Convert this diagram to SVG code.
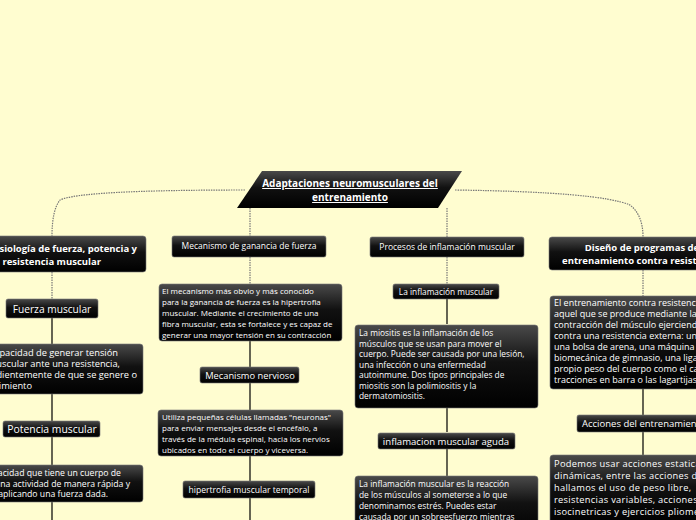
<svg xmlns="http://www.w3.org/2000/svg" width="696" height="520" viewBox="0 0 696 520">
<defs>
<linearGradient id="g" x1="0" y1="0" x2="0" y2="1"><stop offset="0" stop-color="#4a4a4a"/><stop offset="0.45" stop-color="#111"/><stop offset="1" stop-color="#000"/></linearGradient>
<style>
.b{fill:url(#g);stroke:#777;stroke-width:0.6}
.t{fill:#fff;font-family:"Open Sans","DejaVu Sans",sans-serif;font-size:8px}
.s{font-size:8px}
.m{font-size:8.4px}
.r{font-size:9px}
.k{font-size:9.3px}
.j{font-size:8.7px}
.h{font-weight:bold;font-size:9.5px}
.c{text-anchor:middle}
.e{text-anchor:end}
.d{fill:none;stroke:#777;stroke-width:1.2;stroke-dasharray:1.5 1}
.l{fill:none;stroke:#000;stroke-width:1.2}
</style>
</defs>
<rect width="696" height="520" fill="#fffdd0"/>
<g id="connectors">
<path class="d" d="M245 190 Q80 190 60 200 Q52 210 52 236"/>
<path class="d" d="M52 272 V299"/>
<path class="l" d="M52 318 V344 M52 394 V421 M52 437 V465 M52 502 V520"/>
<path class="d" d="M250 208 V236 M250 257 V284"/>
<path class="l" d="M250 341 V367 M250 383 V410 M250 456 V481 M250 498 V520"/>
<path class="d" d="M447 208 V237 M447 257 V284"/>
<path class="l" d="M447 299 V324 M447 408 V432 M447 449 V476"/>
<path class="d" d="M455 190 Q600 192 630 205 Q643 215 643 237 M643 270 V296"/>
<path class="l" d="M643 389 V415 M643 432 V455"/>
</g>
<g id="root">
<polygon points="262,171 462,171 438,208 237,208" fill="url(#g)"/>
<text class="t c" x="350" y="187" style="font-weight:bold;font-size:10px" text-decoration="underline">Adaptaciones neuromusculares del</text>
<text class="t c" x="350" y="201" style="font-weight:bold;font-size:10px" text-decoration="underline">entrenamiento</text>
</g>
<g id="n1"><rect class="b" x="-8" y="236" width="154" height="36" rx="3"/>
<text class="t h e" x="137" y="252">Fisiología de fuerza, potencia y</text>
<text class="t h e" x="101" y="265">resistencia muscular</text></g>
<g id="n1a"><rect class="b" x="6" y="299" width="92" height="19" rx="2"/><text class="t c" x="52" y="312.5" style="font-size:10.2px">Fuerza muscular</text></g>
<g id="n1b"><rect class="b" x="-8" y="344" width="151" height="50" rx="3"/>
<text class="t k e" x="118" y="356">Capacidad de generar tensión</text>
<text class="t k e" x="120" y="367">muscular ante una resistencia,</text>
<text class="t k e" x="137" y="378">independientemente de que se genere o</text>
<text class="t k e" x="32" y="389">movimiento</text></g>
<g id="n1c"><rect class="b" x="3" y="421" width="97" height="16" rx="2"/><text class="t c" x="52" y="432.5" style="font-size:10.4px">Potencia muscular</text></g>
<g id="n1d"><rect class="b" x="-8" y="465" width="151" height="37" rx="3"/>
<text class="t j e" x="121" y="476">Capacidad que tiene un cuerpo de</text>
<text class="t j e" x="130" y="486.5">realizar una actividad de manera rápida y</text>
<text class="t j e" x="108" y="497">eficaz, aplicando una fuerza dada.</text></g>
<g id="n2"><rect class="b" x="172" y="236" width="154" height="21" rx="2"/><text class="t c" x="249" y="249" style="font-size:8.5px">Mecanismo de ganancia de fuerza</text></g>
<g id="n2a"><rect class="b" x="159" y="284" width="183" height="57" rx="3"/>
<text class="t s" x="162" y="294">El mecanismo más obvio y más conocido</text>
<text class="t s" x="162" y="305">para la ganancia de fuerza es la hipertrofia</text>
<text class="t s" x="162" y="316">muscular. Mediante el crecimiento de una</text>
<text class="t s" x="162" y="327">fibra muscular, esta se fortalece y es capaz de</text>
<text class="t s" x="162" y="338">generar una mayor tensión en su contracción</text></g>
<g id="n2b"><rect class="b" x="200" y="367" width="99" height="16" rx="2"/><text class="t c" x="250" y="378.5" style="font-size:9.3px">Mecanismo nervioso</text></g>
<g id="n2c"><rect class="b" x="158" y="410" width="185" height="46" rx="3"/>
<text class="t s" x="162" y="420">Utiliza pequeñas células llamadas "neuronas"</text>
<text class="t s" x="162" y="431">para enviar mensajes desde el encéfalo, a</text>
<text class="t s" x="162" y="442">través de la médula espinal, hacia los nervios</text>
<text class="t s" x="162" y="453">ubicados en todo el cuerpo y viceversa.</text></g>
<g id="n2d"><rect class="b" x="183" y="481" width="132" height="17" rx="2"/><text class="t c" x="249" y="493" style="font-size:8.6px">hipertrofia muscular temporal</text></g>
<g id="n3"><rect class="b" x="370" y="237" width="154" height="20" rx="2"/><text class="t c" x="447" y="250" style="font-size:8.5px">Procesos de inflamación muscular</text></g>
<g id="n3a"><rect class="b" x="393" y="284" width="106" height="15" rx="2"/><text class="t c" x="446" y="295" style="font-size:8.3px">La inflamación muscular</text></g>
<g id="n3b"><rect class="b" x="355" y="325" width="183" height="83" rx="3"/>
<text class="t m" x="359" y="336">La miositis es la inflamación de los</text>
<text class="t m" x="359" y="346.5">músculos que se usan para mover el</text>
<text class="t m" x="359" y="357">cuerpo. Puede ser causada por una lesión,</text>
<text class="t m" x="359" y="367.5">una infección o una enfermedad</text>
<text class="t m" x="359" y="378">autoinmune. Dos tipos principales de</text>
<text class="t m" x="359" y="388.5">miositis son la polimiositis y la</text>
<text class="t m" x="359" y="399">dermatomiositis.</text></g>
<g id="n3c"><rect class="b" x="378" y="433" width="137" height="16" rx="2"/><text class="t c" x="446" y="444.5" style="font-size:9.6px">inflamacion muscular aguda</text></g>
<g id="n3d"><rect class="b" x="355" y="476" width="183" height="60" rx="3"/>
<text class="t m" x="359" y="487">La inflamación muscular es la reacción</text>
<text class="t m" x="359" y="498">de los músculos al someterse a lo que</text>
<text class="t m" x="359" y="509">denominamos estrés. Puedes estar</text>
<text class="t m" x="359" y="520">causada por un sobreesfuerzo mientras</text></g>
<g id="n4"><rect class="b" x="549" y="237" width="160" height="33" rx="3"/>
<text class="t h c" x="642" y="251">Diseño de programas de</text>
<text class="t h c" x="642" y="264">entrenamiento contra resistencia</text></g>
<g id="n4a"><rect class="b" x="550" y="296" width="160" height="93" rx="3"/>
<text class="t r" x="554" y="306">El entrenamiento contra resistencia es</text>
<text class="t r" x="554" y="317">aquel que se produce mediante la</text>
<text class="t r" x="554" y="328">contracción del músculo ejerciendo fuerza</text>
<text class="t r" x="554" y="339">contra una resistencia externa: una pesa,</text>
<text class="t r" x="554" y="350">una bolsa de arena, una máquina</text>
<text class="t r" x="554" y="361">biomecánica de gimnasio, una liga, el</text>
<text class="t r" x="554" y="372">propio peso del cuerpo como el caso de</text>
<text class="t r" x="554" y="383">tracciones en barra o las lagartijas.</text></g>
<g id="n4b"><rect class="b" x="577" y="415" width="130" height="17" rx="2"/><text class="t" x="582" y="427" style="font-size:9.5px">Acciones del entrenamiento</text></g>
<g id="n4c"><rect class="b" x="550" y="455" width="160" height="70" rx="3"/>
<text class="t k" x="554" y="467" letter-spacing="0.3">Podemos usar acciones estaticas y</text>
<text class="t k" x="554" y="479" letter-spacing="0.3">dinámicas, entre las acciones dinámicas</text>
<text class="t k" x="554" y="491" letter-spacing="0.3">hallamos el uso de peso libre,</text>
<text class="t k" x="554" y="503" letter-spacing="0.3">resistencias variables, acciones</text>
<text class="t k" x="554" y="515" letter-spacing="0.3">isocinetricas  y ejercicios pliometricos</text></g>
</svg>
